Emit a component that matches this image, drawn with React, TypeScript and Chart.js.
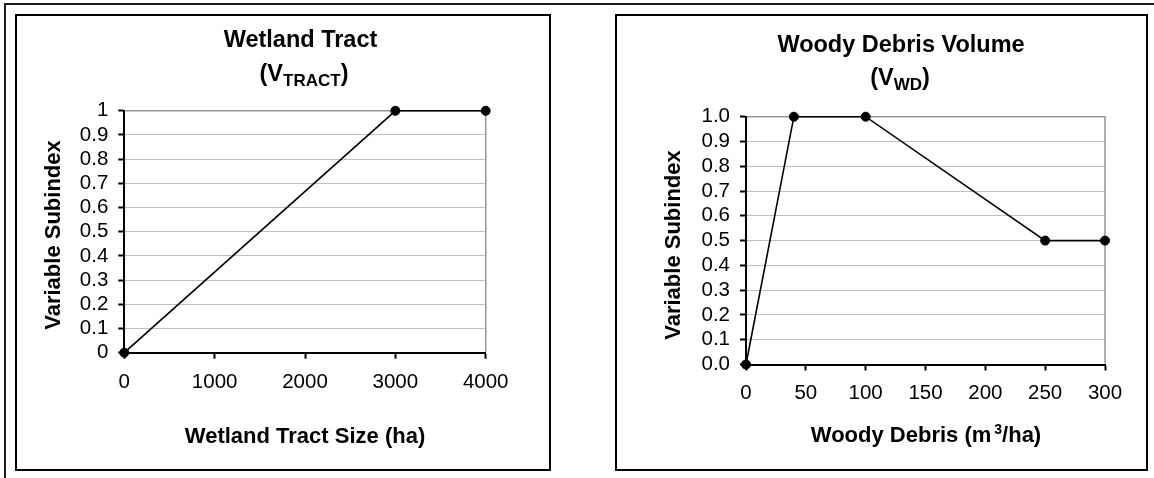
import React, { useEffect, useRef } from 'react';
import { Chart, registerables } from 'chart.js';

Chart.register(...registerables);

const FONT = "'Liberation Sans', Arial, Helvetica, sans-serif";

// ---- Wetland Tract chart data ----
const tractTitle = 'Wetland Tract';
const tractSubMain = '(V';
const tractSubScript = 'TRACT';
const tractXTitle = 'Wetland Tract Size (ha)';
const tractSizes = [0, 3000, 4000];
const tractSubindex = [0, 1, 1];
const tractXTickLabels = ['0', '1000', '2000', '3000', '4000'];
const tractYTickLabels = ['0', '0.1', '0.2', '0.3', '0.4', '0.5', '0.6', '0.7', '0.8', '0.9', '1'];

// ---- Woody Debris chart data ----
const debrisTitle = 'Woody Debris Volume';
const debrisSubMain = '(V';
const debrisSubScript = 'WD';
const debrisXTitleA = 'Woody Debris (m';
const debrisXTitleSup = '3';
const debrisXTitleB = '/ha)';
const debrisVolumes = [0, 40, 100, 250, 300];
const debrisSubindex = [0, 1, 1, 0.5, 0.5];
const debrisXTickLabels = ['0', '50', '100', '150', '200', '250', '300'];
const debrisYTickLabels = ['0.0', '0.1', '0.2', '0.3', '0.4', '0.5', '0.6', '0.7', '0.8', '0.9', '1.0'];

const yTitleText = 'Variable Subindex';

type Seg = { t: string; s: number; dy?: number; gap?: number };

function drawSegs(ctx: CanvasRenderingContext2D, segs: Seg[], cx: number, y: number) {
  let total = 0;
  const widths = segs.map((sg) => {
    ctx.font = `bold ${sg.s}px ${FONT}`;
    const w = ctx.measureText(sg.t).width;
    total += w + (sg.gap || 0);
    return w;
  });
  let x = cx - total / 2;
  ctx.textAlign = 'left';
  ctx.textBaseline = 'alphabetic';
  segs.forEach((sg, i) => {
    x += sg.gap || 0;
    ctx.font = `bold ${sg.s}px ${FONT}`;
    ctx.fillText(sg.t, x, y + (sg.dy || 0));
    x += widths[i];
  });
}

const decorPlugin = {
  id: 'decor',
  beforeDatasetsDraw(chart: any) {
    const { ctx, chartArea: a } = chart;
    ctx.save();
    ctx.strokeStyle = '#959595';
    ctx.lineWidth = 1.5;
    ctx.beginPath();
    ctx.moveTo(a.left + 1, a.top);
    ctx.lineTo(a.right, a.top);
    ctx.lineTo(a.right, a.bottom - 1);
    ctx.stroke();
    ctx.restore();
  },
  afterDraw(chart: any, _args: any, opts: any) {
    const ctx: CanvasRenderingContext2D = chart.ctx;
    ctx.save();
    ctx.fillStyle = '#000';
    drawSegs(ctx, [{ t: opts.title, s: 23.5 }], opts.titleX, opts.titleY);
    drawSegs(ctx, opts.subSegs, opts.subX, opts.subY);
    drawSegs(ctx, opts.xTitleSegs, opts.xTitleX, opts.xTitleY);
    ctx.translate(opts.yTitleX, opts.yTitleY);
    ctx.rotate(-Math.PI / 2);
    drawSegs(ctx, [{ t: yTitleText, s: 22 }], 0, 0);
    ctx.restore();
  },
};

function makeConfig(p: any): any {
  const tickFont = { family: FONT, size: 20.5, lineHeight: 1.2 };
  return {
    type: 'line',
    data: {
      datasets: [
        {
          data: p.xs.map((x: number, i: number) => ({ x, y: p.ys[i] })),
          borderColor: '#000',
          borderWidth: 1.6,
          pointRadius: 4.5,
          pointBackgroundColor: '#000',
          pointBorderColor: '#000',
          pointBorderWidth: 1,
          tension: 0,
          clip: false,
        },
      ],
    },
    options: {
      animation: false,
      responsive: false,
      devicePixelRatio: 1,
      events: [],
      layout: { padding: p.padding },
      plugins: {
        legend: { display: false },
        tooltip: { enabled: false },
        title: { display: false },
        decor: p.decor,
      },
      scales: {
        x: {
          type: 'linear',
          min: 0,
          max: p.xMax,
          ticks: {
            stepSize: p.xStep,
            color: '#000',
            font: tickFont,
            padding: 11,
            maxRotation: 0,
            autoSkip: false,
            callback: (_v: any, i: number) => p.xLabels[i],
          },
          grid: { drawOnChartArea: false, drawTicks: true, tickLength: 6, tickWidth: 2, tickColor: '#000' },
          border: { display: true, color: '#000', width: 2 },
          afterFit: (s: any) => {
            s.height = 40;
          },
        },
        y: {
          type: 'linear',
          min: 0,
          max: 1,
          ticks: {
            stepSize: 0.1,
            color: '#000',
            font: tickFont,
            padding: 10,
            autoSkip: false,
            callback: (_v: any, i: number) => p.yLabels[i],
          },
          grid: { color: '#c0c0c0', lineWidth: 1, tickLength: 6, tickWidth: 2, tickColor: '#000' },
          border: { display: true, color: '#000', width: 2 },
          afterFit: (s: any) => {
            s.width = 60;
          },
        },
      },
    },
    plugins: [decorPlugin],
  };
}

const W = 1154;
const H = 478;

function tractConfig() {
  const left = 124.3, top = 110.8, right = 485.7, bottom = 352.7;
  return makeConfig({
    xs: tractSizes,
    ys: tractSubindex,
    xMax: 4000,
    xStep: 1000,
    xLabels: tractXTickLabels,
    yLabels: tractYTickLabels,
    padding: { left: left - 60, top, right: W - right, bottom: H - bottom - 40 },
    decor: {
      title: tractTitle,
      titleX: 300.5,
      titleY: 47,
      subSegs: [
        { t: tractSubMain, s: 23.5 },
        { t: tractSubScript, s: 17, dy: 4.5 },
        { t: ')', s: 23.5 },
      ],
      subX: 304,
      subY: 81,
      xTitleSegs: [{ t: tractXTitle, s: 22 }],
      xTitleX: 305,
      xTitleY: 443,
      yTitleX: 60,
      yTitleY: 235,
    },
  });
}

function debrisConfig() {
  const left = 746, top = 116.7, right = 1105, bottom = 364.5;
  return makeConfig({
    xs: debrisVolumes,
    ys: debrisSubindex,
    xMax: 300,
    xStep: 50,
    xLabels: debrisXTickLabels,
    yLabels: debrisYTickLabels,
    padding: { left: left - 60, top, right: W - right, bottom: H - bottom - 40 },
    decor: {
      title: debrisTitle,
      titleX: 901,
      titleY: 51.5,
      subSegs: [
        { t: debrisSubMain, s: 23.5 },
        { t: debrisSubScript, s: 17, dy: 4.5 },
        { t: ')', s: 23.5 },
      ],
      subX: 900,
      subY: 85,
      xTitleSegs: [
        { t: debrisXTitleA, s: 22 },
        { t: debrisXTitleSup, s: 14, dy: -8, gap: 3 },
        { t: debrisXTitleB, s: 22 },
      ],
      xTitleX: 926,
      xTitleY: 441.7,
      yTitleX: 680,
      yTitleY: 245,
    },
  });
}

function ChartCanvas({ build }: { build: () => any }) {
  const ref = useRef<HTMLCanvasElement | null>(null);
  useEffect(() => {
    if (!ref.current) return;
    const chart = new Chart(ref.current, build());
    return () => chart.destroy();
  }, [build]);
  return (
    <canvas
      ref={ref}
      width={W}
      height={H}
      style={{ position: 'absolute', left: 0, top: 0, width: W, height: H }}
    />
  );
}

export default function App() {
  return (
    <div style={{ position: 'fixed', left: 0, top: 0, width: W, height: H, background: '#fff', overflow: 'hidden' }}>
      {/* outer frame */}
      <div style={{ position: 'absolute', left: 4, top: 3, width: W - 4, height: 2, background: '#1a1a1a' }} />
      <div style={{ position: 'absolute', left: 4, top: 3, width: 2, height: H - 3, background: '#1a1a1a' }} />
      {/* chart boxes */}
      <div style={{ position: 'absolute', left: 15, top: 14, width: 536, height: 457, boxSizing: 'border-box', border: '2px solid #000' }} />
      <div style={{ position: 'absolute', left: 615, top: 14, width: 533, height: 457, boxSizing: 'border-box', border: '2px solid #000' }} />
      <ChartCanvas build={tractConfig} />
      <ChartCanvas build={debrisConfig} />
    </div>
  );
}
